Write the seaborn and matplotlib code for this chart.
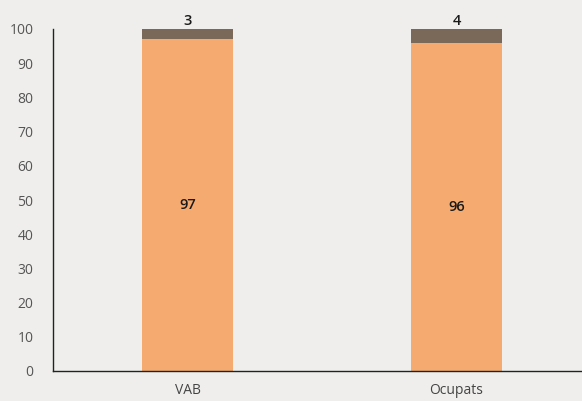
import numpy as np
import matplotlib.pyplot as plt
import pandas as pd
import seaborn as sns

# Data
categories = ["VAB", "Ocupats"]
main_share = [97, 96]
rest_share = [3, 4]

df = pd.DataFrame({"cat": categories, "main": main_share, "rest": rest_share})
df["total"] = df["main"] + df["rest"]

bg = "#efeeec"
orange = "#f5aa6f"
brown = "#7a6858"

sns.set_theme(style="white")
plt.rcParams["font.family"] = ["Open Sans", "DejaVu Sans"]

fig = plt.figure(figsize=(5.82, 4.01), dpi=100, facecolor=bg)
ax = fig.add_axes([53 / 582, 30 / 401, 538 / 582, 342 / 401])
ax.set_facecolor(bg)

# stacked bars: total (brown) then main share (orange) on top of it
sns.barplot(data=df, x="cat", y="total", color=brown, width=0.34,
            saturation=1, linewidth=0, ax=ax)
sns.barplot(data=df, x="cat", y="main", color=orange, width=0.34,
            saturation=1, linewidth=0, ax=ax)

for i, row in df.iterrows():
    ax.text(i, row["main"] / 2, f"{row['main']}", ha="center", va="center",
            fontsize=10.5, fontweight="semibold", color="#1a1a1a")
    ax.annotate(f"{row['rest']}", (i, row["total"]), xytext=(0, 1),
                textcoords="offset points", ha="center", va="bottom",
                fontsize=10.5, fontweight="semibold", color="#1a1a1a")

ax.set_ylim(0, 100)
ax.set_xlim(-0.5, 1.5)
ax.set_yticks(range(0, 101, 10))
ax.set_xlabel("")
ax.set_ylabel("")

for s in ["top", "right"]:
    ax.spines[s].set_visible(False)
for s in ["left", "bottom"]:
    ax.spines[s].set_color("#222222")
    ax.spines[s].set_linewidth(1.0)

ax.tick_params(axis="y", length=0, pad=14, labelsize=10, labelcolor="#555555")
ax.tick_params(axis="x", length=0, pad=9, labelsize=10, labelcolor="#444444")
ax.set_xticks([0.5], minor=True)
ax.tick_params(axis="x", which="minor", direction="in", length=7,
               width=1, color="#222222")

fig.savefig("out.png", dpi=100, facecolor=bg)
